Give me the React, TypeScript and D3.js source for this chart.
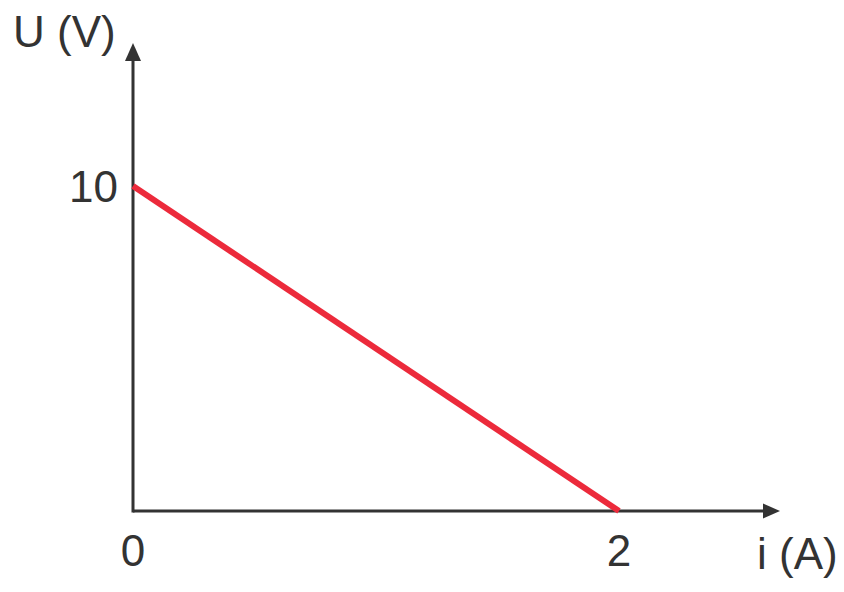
import React from 'react';
import * as d3 from 'd3';

// U-i characteristic: a straight line from (0, 10) to (2, 0)
const currentValues = [0, 2];
const voltageValues = [10, 0];
const xTicks = ['0', '2'];
const yTicks = ['10'];
const xTickValues = [0, 2];
const yTickValues = [10];

const W = 844;
const H = 592;
const FONT = 'Liberation Sans, Arial, sans-serif';
const INK = '#333333';
const RED = '#ec2a3b';

const App: React.FC = () => {
  const x = d3.scaleLinear().domain([0, 2]).range([133, 619]);
  const y = d3.scaleLinear().domain([0, 10]).range([511, 186]);

  const x0 = x(0);
  const y0 = y(0);
  const xEnd = 780;
  const yEnd = 43;

  const line = d3
    .line<number>()
    .x((_, i) => x(currentValues[i]))
    .y(d => y(d));

  return (
    <svg
      width={W}
      height={H}
      viewBox={`0 0 ${W} ${H}`}
      style={{ position: 'absolute', left: 0, top: 0, background: '#fff' }}
    >
      {/* Axes */}
      <line x1={x0} y1={y0} x2={xEnd - 10} y2={y0} stroke={INK} strokeWidth={3} />
      <line x1={x0} y1={y0 + 1.5} x2={x0} y2={yEnd + 10} stroke={INK} strokeWidth={3} />
      <path d={`M${xEnd},${y0} L${xEnd - 17},${y0 - 7.5} L${xEnd - 17},${y0 + 7.5} Z`} fill={INK} />
      <path d={`M${x0},${yEnd} L${x0 - 8},${yEnd + 18} L${x0 + 8},${yEnd + 18} Z`} fill={INK} />

      {/* Data line */}
      <path d={line(voltageValues) ?? ''} fill="none" stroke={RED} strokeWidth={6} />

      {/* Tick labels */}
      {xTickValues.map((v, i) => (
        <text
          key={`x${i}`}
          x={x(v)}
          y={566}
          textAnchor="middle"
          fontFamily={FONT}
          fontSize={44}
          fill={INK}
        >
          {xTicks[i]}
        </text>
      ))}
      {yTickValues.map((v, i) => (
        <text
          key={`y${i}`}
          x={x0 - 15}
          y={y(v) + 16}
          textAnchor="end"
          fontFamily={FONT}
          fontSize={44}
          fill={INK}
        >
          {yTicks[i]}
        </text>
      ))}

      {/* Axis titles */}
      <text x={13} y={47} fontFamily={FONT} fontSize={44} fill={INK}>
        U (V)
      </text>
      <text x={757} y={569} fontFamily={FONT} fontSize={44} fill={INK}>
        i (A)
      </text>
    </svg>
  );
};

export default App;
